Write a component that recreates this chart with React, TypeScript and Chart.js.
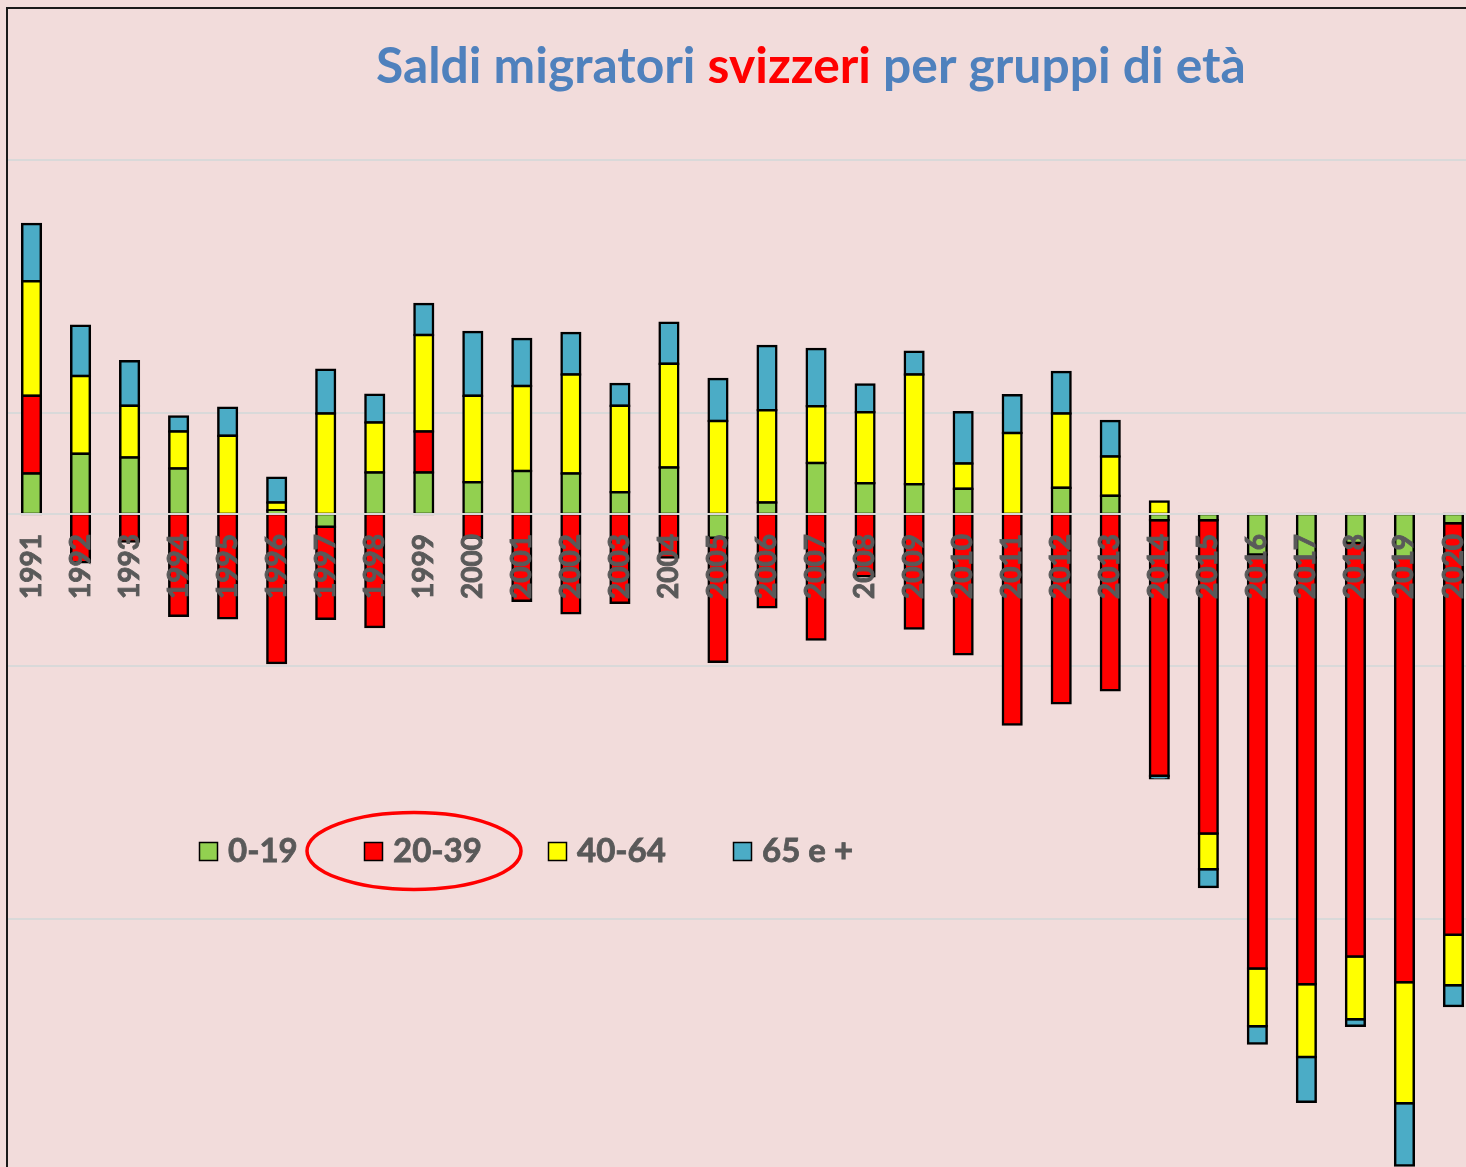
import React, { useEffect, useRef } from 'react';
import { Chart, registerables } from 'chart.js';

Chart.register(...registerables);

// ---- Data (persons, net migration balance of Swiss citizens) ----
const years = [
  '1991', '1992', '1993', '1994', '1995', '1996', '1997', '1998', '1999', '2000',
  '2001', '2002', '2003', '2004', '2005', '2006', '2007', '2008', '2009', '2010',
  '2011', '2012', '2013', '2014', '2015', '2016', '2017', '2018', '2019', '2020',
];
const age0to19 = [80, 119, 112, 90, 0, 7, -25, 82, 82, 63, 85, 80, 43, 92, -47, 23, 101, 61, 59, 50, 0, 52, 36, -12, -12, -80, -86, -57, -86, -18];
const age20to39 = [154, -95, -54, -201, -206, -294, -182, -223, 81, -47, -171, -196, -175, -86, -245, -184, -248, -123, -226, -277, -416, -374, -348, -505, -619, -818, -843, -817, -839, -813];
const age40to64 = [226, 154, 102, 73, 155, 16, 199, 99, 191, 171, 168, 196, 171, 205, 184, 182, 112, 140, 217, 50, 160, 147, 78, 25, -71, -114, -144, -124, -239, -100];
const age65plus = [113, 99, 88, 30, 55, 49, 86, 55, 61, 126, 93, 82, 43, 81, 83, 127, 113, 55, 45, 101, 75, 82, 70, -5, -35, -34, -88, -13, -123, -41];
const seriesNames = ['0-19', '20-39', '40-64', '65 e +'];
const yGridValues = [700, 200, -300, -800, -1300];
const yMin = -1300;
const yMax = 1000;
const titleParts = ['Saldi migratori ', 'svizzeri', ' per gruppi di età'];

const COLORS = ['#92D050', '#FF0000', '#FFFF00', '#4BACC6'];
const TEXT_GRAY = '#595959';
const TITLE_BLUE = '#4F81BD';

const overlayPlugin = {
  id: 'overlay',
  afterDraw(chart: any) {
    const ctx: CanvasRenderingContext2D = chart.ctx;
    ctx.save();
    // Title (multi-colour)
    const full = titleParts.join('');
    ctx.font = 'bold 100px Lato';
    const w100 = ctx.measureText(full).width;
    const size = (100 * 870) / w100;
    ctx.font = `bold ${size}px Lato`;
    ctx.textAlign = 'left';
    ctx.textBaseline = 'alphabetic';
    let x = 804 - 435;
    const titleColors = [TITLE_BLUE, '#FF0000', TITLE_BLUE];
    titleParts.forEach((t, i) => {
      ctx.fillStyle = titleColors[i];
      ctx.fillText(t, x, 75);
      x += ctx.measureText(t).width;
    });

    // Legend
    const boxX = [192, 357, 541, 726];
    ctx.font = 'bold 33px Lato';
    chart.data.datasets.forEach((ds: any, i: number) => {
      ctx.fillStyle = ds.backgroundColor;
      ctx.fillRect(boxX[i], 834, 19, 19);
      ctx.strokeStyle = '#000';
      ctx.lineWidth = 1.5;
      ctx.strokeRect(boxX[i] + 0.5, 834.5, 18, 18);
      ctx.fillStyle = TEXT_GRAY;
      ctx.lineWidth = 0.8;
      ctx.strokeStyle = TEXT_GRAY;
      ctx.fillText(ds.label, boxX[i] + 29, 854);
      ctx.strokeText(ds.label, boxX[i] + 29, 854);
    });

    // Red ellipse around 20-39
    ctx.beginPath();
    ctx.ellipse(407, 843, 107, 38.5, 0, 0, Math.PI * 2);
    ctx.strokeStyle = '#FF0000';
    ctx.lineWidth = 3.5;
    ctx.stroke();
    ctx.restore();
  },
};

export default function App() {
  const canvasRef = useRef<HTMLCanvasElement | null>(null);

  useEffect(() => {
    if (!canvasRef.current) return;
    const seriesValues = [age0to19, age20to39, age40to64, age65plus];
    const chart = new Chart(canvasRef.current, {
      type: 'bar',
      data: {
        labels: years,
        datasets: seriesValues.map((vals, i) => ({
          label: seriesNames[i],
          data: vals,
          backgroundColor: COLORS[i],
          borderColor: '#000000',
          borderWidth: 2.5,
          borderSkipped: false,
          inflateAmount: 1.25,
          barPercentage: 0.38,
          categoryPercentage: 1,
        })),
      },
      options: {
        responsive: false,
        animation: false,
        layout: { padding: { left: 0, right: 60, top: 0, bottom: 0 } },
        plugins: {
          legend: { display: false },
          title: { display: false },
          tooltip: { enabled: false },
        },
        scales: {
          x: {
            stacked: true,
            position: { y: 0 } as any,
            offset: true,
            grid: { display: false, drawTicks: false },
            border: { display: true, color: '#D9D9D9', width: 2, z: 1 },
            ticks: {
              z: 2,
              autoSkip: false,
              minRotation: 90,
              maxRotation: 90,
              padding: 20,
              color: TEXT_GRAY,
              textStrokeColor: TEXT_GRAY,
              textStrokeWidth: 0.9,
              font: { family: 'Lato', weight: 'bold', size: 28 },
            },
          },
          y: {
            stacked: true,
            min: yMin,
            max: yMax,
            afterBuildTicks: (scale: any) => {
              scale.ticks = yGridValues.map((v) => ({ value: v }));
            },
            ticks: { display: false },
            grid: { color: '#D9D9D9', lineWidth: 2, drawTicks: false },
            border: { display: false },
          },
        },
      },
      plugins: [overlayPlugin],
    } as any);
    return () => chart.destroy();
  }, []);

  return (
    <div
      style={{
        position: 'fixed',
        left: 0,
        top: 0,
        width: '100vw',
        height: '100vh',
        background: '#F2DCDB',
        overflow: 'hidden',
      }}
    >
      <canvas
        ref={canvasRef}
        width={1531}
        height={1164}
        style={{ position: 'absolute', left: 7, top: 8, width: 1531, height: 1164 }}
      />
      <div
        style={{
          position: 'absolute',
          left: 6,
          top: 7,
          right: -20,
          bottom: -20,
          borderTop: '2px solid #1a1a1a',
          borderLeft: '2px solid #1a1a1a',
          pointerEvents: 'none',
        }}
      />
    </div>
  );
}
